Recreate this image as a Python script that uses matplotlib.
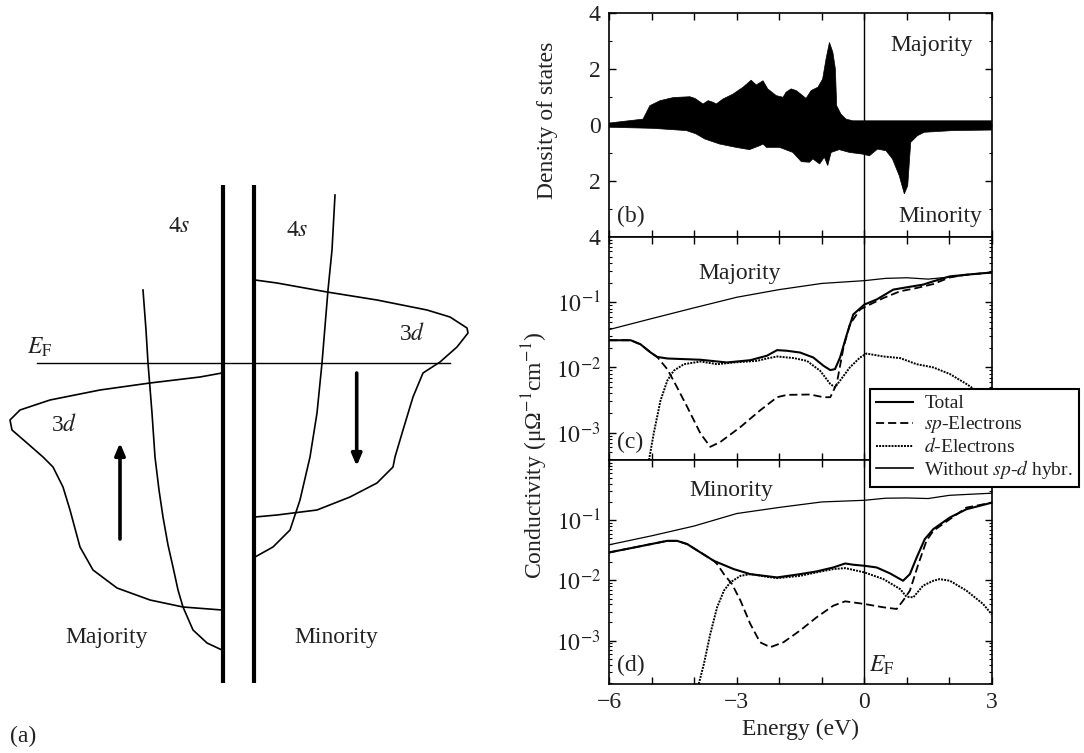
import numpy as np
import matplotlib
matplotlib.use('Agg')
import matplotlib.pyplot as plt
from matplotlib.ticker import FixedLocator, NullFormatter, FuncFormatter
from matplotlib.lines import Line2D

plt.rcParams['font.family'] = ['Liberation Serif', 'DejaVu Serif']
plt.rcParams['mathtext.fontset'] = 'stix'

# ---------------- data ----------------
# (b) density of states (majority up, minority down)
dos_maj_E = [-6.00, -5.20, -5.16, -5.04, -4.80, -4.49, -4.10, -3.98, -3.79, -3.67, -3.55, -3.48,
             -3.32, -3.09, -2.85, -2.66, -2.54, -2.38, -2.27, -2.07, -1.91, -1.84, -1.72, -1.60,
             -1.45, -1.37, -1.25, -1.09, -0.98, -0.90, -0.82, -0.74, -0.68, -0.65, -0.55, -0.43,
             -0.27, 3.00]
dos_maj = [0.07, 0.21, 0.33, 0.69, 0.87, 0.98, 1.01, 0.95, 0.75, 0.87, 0.81, 0.75,
           0.93, 1.10, 1.35, 1.60, 1.43, 1.58, 1.29, 1.05, 0.99, 1.17, 1.29, 1.23,
           1.05, 0.95, 1.23, 1.35, 1.64, 2.36, 2.95, 2.60, 2.00, 0.69, 0.39, 0.21,
           0.15, 0.15]
dos_min_E = [-6.00, -4.96, -4.18, -3.95, -3.75, -3.40, -3.01, -2.70, -2.46, -2.38, -2.30, -1.99,
             -1.68, -1.48, -1.29, -1.21, -1.05, -0.94, -0.86, -0.78, -0.59, -0.35, -0.04, 0.12,
             0.31, 0.51, 0.66, 0.82, 0.94, 1.02, 1.09, 1.25, 1.41, 2.07, 3.00]
dos_min = [0.08, 0.12, 0.20, 0.32, 0.50, 0.68, 0.80, 0.88, 0.74, 0.68, 0.80, 0.80,
           0.98, 1.31, 1.33, 1.21, 1.39, 1.15, 1.45, 0.98, 0.88, 0.98, 1.04, 1.10,
           0.86, 0.92, 1.21, 1.81, 2.46, 2.17, 0.62, 0.38, 0.26, 0.20, 0.18]

# (c) majority conductivity
c_nohyb_E = [-6, -5, -4, -3, -2, -1, 0, 0.5, 1, 1.5, 2, 2.5, 3]
c_nohyb = [0.038, 0.056, 0.082, 0.119, 0.156, 0.194, 0.214, 0.232, 0.237, 0.226, 0.243, 0.267, 0.286]
c_tot_E = [-6.00, -5.49, -5.26, -5.02, -4.87, -4.63, -3.85, -3.23, -2.68, -2.29, -2.05, -1.82,
           -1.51, -1.20, -0.96, -0.80, -0.69, -0.57, -0.41, -0.26, 0.00, 0.29, 0.68, 0.99,
           1.38, 1.62, 2.01, 2.40, 3.00]
c_tot = [0.0261, 0.0261, 0.0226, 0.0169, 0.0145, 0.0137, 0.0131, 0.0119, 0.0129, 0.0151, 0.0184, 0.0180,
         0.0169, 0.0142, 0.0106, 0.0091, 0.0094, 0.0142, 0.0322, 0.0649, 0.092, 0.110, 0.156, 0.169,
         0.186, 0.209, 0.249, 0.264, 0.286]
c_sp_E = [-6.00, -5.49, -5.26, -5.02, -4.87, -4.63, -4.40, -4.16, -3.85, -3.62, -3.38, -2.91,
          -2.45, -2.05, -1.82, -1.27, -0.96, -0.80, -0.65, -0.49, -0.34, -0.10, 0.05, 0.45,
          0.84, 1.23, 1.62, 2.01, 2.40, 3.00]
c_sp = [0.0261, 0.0261, 0.0226, 0.0169, 0.0145, 0.0094, 0.00495, 0.00246, 0.000966, 0.000605, 0.000721, 0.00122,
        0.00219, 0.00349, 0.00379, 0.00384, 0.00349, 0.00349, 0.00557, 0.0202, 0.0457, 0.0773, 0.0869, 0.116,
        0.147, 0.165, 0.190, 0.240, 0.264, 0.286]
c_d_E = [-5.06, -4.95, -4.79, -4.63, -4.48, -4.24, -3.85, -3.46, -3.07, -2.52, -2.29, -2.05,
         -1.66, -1.35, -1.04, -0.80, -0.69, -0.57, -0.34, -0.10, 0.05, 0.45, 0.84, 1.23,
         1.62, 2.01, 2.40, 3.00]
c_d = [0.00038, 0.000966, 0.0031, 0.00627, 0.00889, 0.0112, 0.0123, 0.0112, 0.0119, 0.0126, 0.0137, 0.0147,
       0.0139, 0.0126, 0.00889, 0.00557, 0.00495, 0.00627, 0.0100, 0.0142, 0.0163, 0.0147, 0.0139, 0.0112,
       0.0100, 0.00791, 0.00557, 0.0030]

# (d) minority conductivity
d_nohyb_E = [-6, -5, -4, -3, -2, -1, 0, 0.5, 1, 1.5, 2, 2.5, 3]
d_nohyb = [0.039, 0.055, 0.080, 0.129, 0.163, 0.201, 0.214, 0.232, 0.234, 0.229, 0.259, 0.270, 0.281]
d_tot_E = [-6.00, -5.41, -5.02, -4.63, -4.40, -4.16, -3.85, -3.54, -3.07, -2.68, -2.05, -1.51,
           -1.12, -0.73, -0.45, -0.26, 0.00, 0.29, 0.60, 0.91, 1.07, 1.23, 1.42, 1.62,
           2.01, 2.40, 3.00]
d_tot = [0.0291, 0.0352, 0.0400, 0.0454, 0.0454, 0.0400, 0.0291, 0.0212, 0.0154, 0.0127, 0.0112, 0.0127,
         0.0141, 0.0164, 0.0191, 0.0182, 0.0175, 0.0164, 0.0131, 0.00986, 0.0127, 0.0240, 0.0484, 0.0710,
         0.111, 0.152, 0.196]
d_sp_E = [-6.00, -5.41, -5.02, -4.63, -4.40, -4.16, -3.85, -3.54, -3.46, -3.30, -3.11, -2.91,
          -2.68, -2.45, -2.21, -1.90, -1.51, -1.12, -0.73, -0.45, 0.00, 0.45, 0.76, 0.91,
          1.07, 1.27, 1.46, 1.62, 2.01, 2.40, 3.00]
d_sp = [0.0291, 0.0352, 0.0400, 0.0454, 0.0454, 0.0400, 0.0291, 0.0212, 0.0187, 0.0127, 0.00869, 0.00461,
        0.00189, 0.000938, 0.000776, 0.000938, 0.00147, 0.00244, 0.00380, 0.00449, 0.00406, 0.00357, 0.00335, 0.00461,
        0.00675, 0.0187, 0.0454, 0.0666, 0.104, 0.162, 0.196]
d_d_E = [-3.89, -3.77, -3.62, -3.46, -3.30, -3.15, -2.91, -2.68, -2.29, -2.05, -1.51, -1.12,
         -0.73, -0.45, 0.00, 0.45, 0.84, 0.99, 1.15, 1.38, 1.62, 1.77, 2.01, 2.40, 2.79, 3.00]
d_d = [0.000191, 0.00041, 0.00129, 0.00357, 0.00675, 0.00927, 0.0119, 0.0127, 0.0115, 0.0109, 0.0119, 0.0136,
       0.0154, 0.0160, 0.0136, 0.0105, 0.00718, 0.00536, 0.00522, 0.00817, 0.00986, 0.0105, 0.00986, 0.00675,
       0.00406, 0.0027]

# (a) schematic band outlines (schematic units)
maj3d_x = [222, 200, 150, 100, 50, 20, 10, 12, 27, 43, 53, 63, 70, 80, 93, 117, 150, 183, 222]
maj3d_y = [373, 377, 383, 390, 400, 410, 420, 430, 443, 457, 467, 487, 510, 547, 570, 588, 600, 607, 610]
maj4s_x = [143, 146, 148, 152, 155, 159, 163, 168, 173, 178, 183, 193, 207, 222]
maj4s_y = [290, 330, 363, 413, 457, 490, 517, 545, 567, 590, 607, 630, 643, 650]
min3d_x = [255, 277, 327, 377, 427, 450, 467, 468, 457, 440, 423, 413, 403, 395, 393, 377, 350, 317, 277, 255]
min3d_y = [280, 283, 292, 300, 310, 317, 328, 333, 347, 362, 373, 397, 430, 457, 467, 483, 497, 510, 515, 517]
min4s_x = [335, 332, 328, 322, 317, 310, 300, 290, 273, 255]
min4s_y = [195, 250, 290, 363, 413, 457, 500, 530, 547, 557]

xticks_major = [-6, -3, 0, 3]
TXT = '#222222'
FS = 17

# ---------------- figure ----------------
W, H = 1084, 753
fig = plt.figure(figsize=(W / 100, H / 100), dpi=100)


def fx(px):
    return px / W


def fy(py):
    return 1 - py / H


# ----- panel (a) -----
axa = fig.add_axes([0, 0, 500 / W, 1])
axa.set_xlim(0, 500)
axa.set_ylim(753, 0)
axa.axis('off')
lw_c = 1.2
axa.plot(maj3d_x, maj3d_y, color='k', lw=lw_c)
axa.plot(maj4s_x, maj4s_y, color='k', lw=lw_c)
axa.plot(min3d_x, min3d_y, color='k', lw=lw_c)
axa.plot(min4s_x, min4s_y, color='k', lw=lw_c)
axa.plot([223, 223], [185, 683], color='k', lw=3.0, solid_capstyle='butt')
axa.plot([253.5, 253.5], [185, 683], color='k', lw=3.0, solid_capstyle='butt')
axa.plot([37, 450], [363, 363], color='k', lw=1.0)
axa.annotate('', xy=(120, 443), xytext=(120, 539),
             arrowprops=dict(arrowstyle='-|>,head_length=0.7,head_width=0.3', lw=2.6, color='k',
                             shrinkA=0, shrinkB=0))
axa.annotate('', xy=(356.7, 466), xytext=(356.7, 373),
             arrowprops=dict(arrowstyle='-|>,head_length=0.7,head_width=0.3', lw=2.6, color='k',
                             shrinkA=0, shrinkB=0))
axa.text(179, 226, r'4$\mathit{s}$', fontsize=FS, ha='center', va='center', color=TXT)
axa.text(297, 230, r'4$\mathit{s}$', fontsize=FS, ha='center', va='center', color=TXT)
axa.text(64, 425, r'3$\mathit{d}$', fontsize=FS, ha='center', va='center', color=TXT)
axa.text(412, 334, r'3$\mathit{d}$', fontsize=FS, ha='center', va='center', color=TXT)
axa.text(40, 347, r'$\mathit{E}_{\mathrm{F}}$', fontsize=FS, ha='center', va='center', color=TXT)
axa.text(107, 637, 'Majority', fontsize=FS, ha='center', va='center', color=TXT)
axa.text(336, 638, 'Minority', fontsize=FS, ha='center', va='center', color=TXT)
axa.text(10, 736, '(a)', fontsize=FS, ha='left', va='center', color=TXT)

# ----- right panels -----
L, R = 609, 992
ax_b = fig.add_axes([fx(L), fy(237), (R - L) / W, (237 - 13) / H])
ax_c = fig.add_axes([fx(L), fy(460), (R - L) / W, (460 - 237) / H])
ax_d = fig.add_axes([fx(L), fy(684), (R - L) / W, (684 - 460) / H])

for ax in (ax_b, ax_c, ax_d):
    ax.set_xlim(-6, 3)
    ax.xaxis.set_major_locator(FixedLocator(list(range(-6, 4))))
    ax.tick_params(which='both', direction='in', top=True, right=True, color='k')
    ax.tick_params(which='major', length=5, width=1.0, labelsize=FS, pad=6, labelcolor=TXT)
    ax.tick_params(which='minor', length=2.5, width=0.8)
    for s in ax.spines.values():
        s.set_linewidth(1.2)
    ax.axvline(0, color='k', lw=1.0, zorder=1)

for ax in (ax_b, ax_c):
    ax.xaxis.set_major_formatter(NullFormatter())
ax_d.xaxis.set_major_formatter(FuncFormatter(
    lambda v, p: ('\u2212%d' % abs(v) if v < 0 else '%d' % v) if int(round(v)) in xticks_major else ''))

# (b)
ax_b.fill(np.concatenate([dos_maj_E, dos_min_E[::-1]]),
          np.concatenate([dos_maj, -np.array(dos_min[::-1])]), color='k', lw=0.5, zorder=2)
ax_b.set_ylim(-4, 4)
ax_b.yaxis.set_major_locator(FixedLocator([-4, -2, 0, 2, 4]))
ax_b.yaxis.set_minor_locator(FixedLocator([-3, -1, 1, 3]))
ax_b.yaxis.set_major_formatter(FuncFormatter(lambda v, p: '%d' % abs(v)))
ax_b.text(0.95, 0.855, 'Majority', transform=ax_b.transAxes, fontsize=FS, ha='right', va='center', color=TXT)
ax_b.text(0.975, 0.09, 'Minority', transform=ax_b.transAxes, fontsize=FS, ha='right', va='center', color=TXT)
ax_b.text(0.02, 0.09, '(b)', transform=ax_b.transAxes, fontsize=FS, ha='left', va='center', color=TXT)


def style_log(ax, lo, hi):
    ax.set_yscale('log')
    ax.set_ylim(lo, hi)
    ax.yaxis.set_major_locator(FixedLocator([1e-3, 1e-2, 1e-1]))
    ax.yaxis.set_major_formatter(FuncFormatter(lambda v, p: r'$10^{%d}$' % int(round(np.log10(v)))))
    minors = [m * 10.0 ** e for e in range(-4, 1) for m in range(2, 10)]
    ax.yaxis.set_minor_locator(FixedLocator(minors))
    ax.yaxis.set_minor_formatter(NullFormatter())


lw_tot, lw_thin = 1.5, 0.9
dash_sp = (0, (4.5, 2.2))
dot_d = (0, (1.0, 0.6))

style_log(ax_c, 3.8e-4, 1.0)
ax_c.plot(c_nohyb_E, c_nohyb, color='k', lw=lw_thin)
ax_c.plot(c_tot_E, c_tot, color='k', lw=lw_tot)
ax_c.plot(c_sp_E, c_sp, color='k', lw=1.3, ls=dash_sp)
ax_c.plot(c_d_E, c_d, color='k', lw=1.4, ls=dot_d)
ax_c.text(0.34, 0.835, 'Majority', transform=ax_c.transAxes, fontsize=FS, ha='center', va='center', color=TXT)
ax_c.text(0.02, 0.08, '(c)', transform=ax_c.transAxes, fontsize=FS, ha='left', va='center', color=TXT)

style_log(ax_d, 1.9e-4, 1.0)
ax_d.plot(d_nohyb_E, d_nohyb, color='k', lw=lw_thin)
ax_d.plot(d_tot_E, d_tot, color='k', lw=lw_tot)
ax_d.plot(d_sp_E, d_sp, color='k', lw=1.3, ls=dash_sp)
ax_d.plot(d_d_E, d_d, color='k', lw=1.4, ls=dot_d)
ax_d.text(0.32, 0.865, 'Minority', transform=ax_d.transAxes, fontsize=FS, ha='center', va='center', color=TXT)
ax_d.text(0.02, 0.085, '(d)', transform=ax_d.transAxes, fontsize=FS, ha='left', va='center', color=TXT)
ax_d.text(0.12, 0.085, r'$\mathit{E}_{\mathrm{F}}$', transform=ax_d.get_xaxis_transform(),
          fontsize=FS, ha='left', va='center', color=TXT)
ax_d.set_xlabel('Energy (eV)', fontsize=FS, color=TXT, labelpad=4)

fig.text(fx(547), fy(120), 'Density of states', rotation=90, fontsize=FS, ha='center', va='center', color=TXT)
fig.text(fx(535), fy(455), r'Conductivity (μΩ$^{-1}$cm$^{-1}$)', rotation=90, fontsize=FS,
         ha='center', va='center', color=TXT)

handles = [Line2D([], [], color='k', lw=lw_tot),
           Line2D([], [], color='k', lw=1.3, ls=dash_sp),
           Line2D([], [], color='k', lw=1.4, ls=dot_d),
           Line2D([], [], color='k', lw=1.2)]
labels = ['Total', r'$\mathit{sp}$-Electrons', r'$\mathit{d}$-Electrons', r'Without $\mathit{sp}$-$\mathit{d}$ hybr.']
leg = fig.legend(handles, labels, loc='upper left', bbox_to_anchor=(fx(870), fy(389)),
                 fontsize=14, frameon=True, fancybox=False, edgecolor='k', framealpha=1,
                 handlelength=1.9, handletextpad=0.6, borderpad=0.3, labelspacing=0.1,
                 borderaxespad=0)
leg.get_frame().set_linewidth(1.5)
for t in leg.get_texts():
    t.set_color(TXT)

fig.savefig('out.png', dpi=100)
